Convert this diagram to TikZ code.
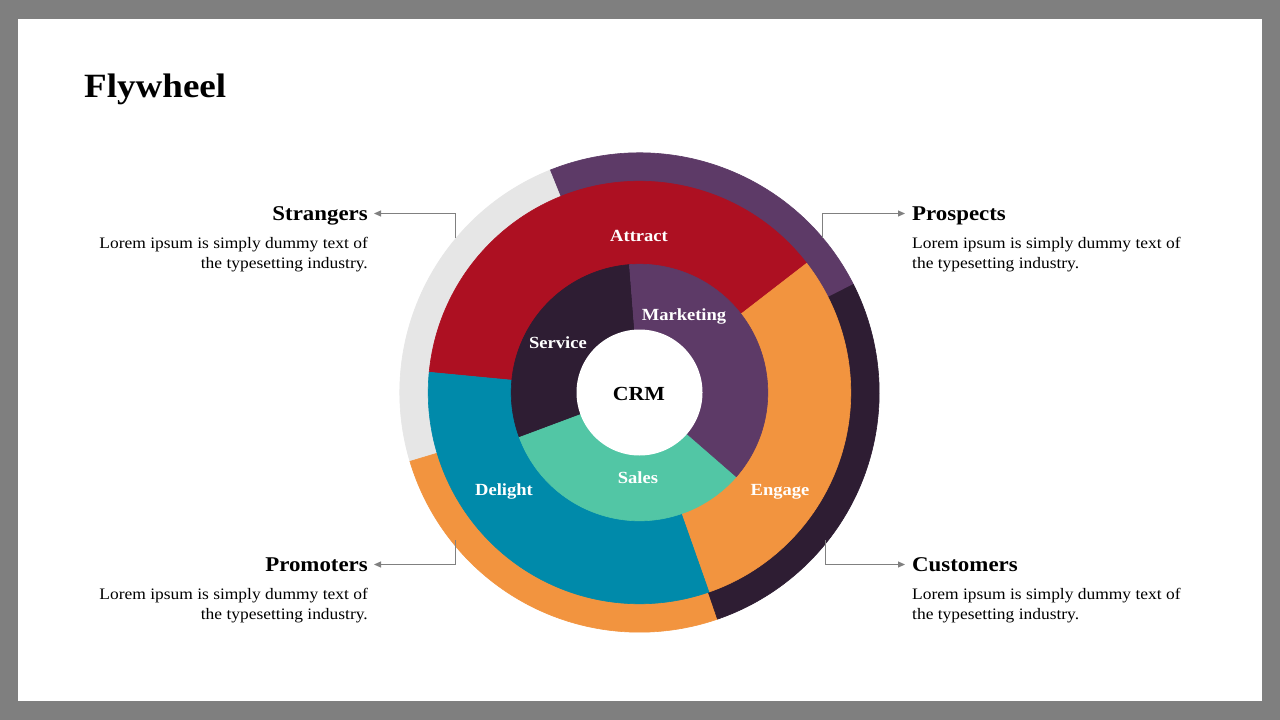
\documentclass[tikz,border=0pt]{standalone}
\usepackage{fontspec}
\setmainfont[FakeStretch=1.09]{Liberation Serif}
\usetikzlibrary{arrows.meta}
\definecolor{bggray}{HTML}{7F7F7F}
\definecolor{ringgray}{HTML}{E6E6E6}
\definecolor{wpurple}{HTML}{5D3A67}
\definecolor{wdark}{HTML}{2E1D33}
\definecolor{worange}{HTML}{F2943F}
\definecolor{wred}{HTML}{AD1022}
\definecolor{wblue}{HTML}{008AAA}
\definecolor{wteal}{HTML}{52C6A5}
\definecolor{conngray}{HTML}{808080}
\newcommand{\annseg}[5]{\filldraw[fill=#1, draw=#1, line width=0.6pt, line join=round] (#2:#4) arc[start angle=#2,end angle=#3,radius=#4] -- (#3:#5) arc[start angle=#3,end angle=#2,radius=#5] -- cycle;}
\tikzset{
  titletext/.style={font=\fontsize{34}{40}\selectfont\bfseries, inner sep=0pt, anchor=base west},
  headtext/.style={font=\fontsize{21}{25}\selectfont\bfseries, inner sep=0pt},
  bodytext/.style={font=\fontsize{16}{20}\selectfont, inner sep=0pt},
  wheeltext/.style={font=\fontsize{17}{20}\selectfont\bfseries, text=white, inner sep=0pt, anchor=base},
  crmtext/.style={font=\fontsize{20}{24}\selectfont\bfseries, text=black, inner sep=0pt, anchor=base},
  conn/.style={draw=conngray, line width=1pt, -{Triangle[length=7pt,width=6pt]}}
}
\begin{document}
\begin{tikzpicture}[x=1pt,y=-1pt]
\useasboundingbox (0,0) rectangle (1280,720);
\fill[bggray] (0,0) rectangle (1280,720);
\fill[white] (18,19) rectangle (1262,701);

\node[titletext] (title) at (84,97) {Flywheel};

\begin{scope}[shift={(639.5,392.5)}, yscale=-1]
  % outer ring
  \annseg{wpurple}{26.8}{112}{239.7}{210}
  \annseg{ringgray}{112}{196.7}{239.7}{210}
  \annseg{worange}{196.7}{289}{239.7}{210}
  \annseg{wdark}{289}{386.8}{239.7}{210}
  % middle ring
  \annseg{wred}{37.7}{174.5}{211.3}{127}
  \annseg{wblue}{174.5}{289.4}{211.3}{127}
  \annseg{worange}{289.4}{397.7}{211.3}{127}
  % inner ring
  \annseg{wdark}{94.5}{200.5}{128.3}{62}
  \annseg{wteal}{200.5}{319}{128.3}{62}
  \annseg{wpurple}{319}{454.5}{128.3}{62}
  \fill[white] (0,0) circle[radius=63];
  % labels
  \node[wheeltext] (attract) at (-0.5,151.5) {Attract};
  \node[wheeltext] (marketing) at (44.5,72.5) {Marketing};
  \node[wheeltext] (service) at (-81.5,44.5) {Service};
  \node[crmtext] (crm) at (-0.5,-7.5) {CRM};
  \node[wheeltext] (sales) at (-1.5,-90.5) {Sales};
  \node[wheeltext] (delight) at (-135.5,-102.5) {Delight};
  \node[wheeltext] (engage) at (140.5,-102.5) {Engage};
\end{scope}

% Strangers
\node[headtext, anchor=base east] (strangers) at (368,220) {Strangers};
\node[bodytext, anchor=base east] (str1) at (368,248) {Lorem ipsum is simply dummy text of};
\node[bodytext, anchor=base east] (str2) at (368,268) {the typesetting industry.};
% Prospects
\node[headtext, anchor=base west] (prospects) at (912,220) {Prospects};
\node[bodytext, anchor=base west] (pro1) at (912,248) {Lorem ipsum is simply dummy text of};
\node[bodytext, anchor=base west] (pro2) at (912,268) {the typesetting industry.};
% Promoters
\node[headtext, anchor=base east] (promoters) at (368,571) {Promoters};
\node[bodytext, anchor=base east] (prm1) at (368,599) {Lorem ipsum is simply dummy text of};
\node[bodytext, anchor=base east] (prm2) at (368,619) {the typesetting industry.};
% Customers
\node[headtext, anchor=base west] (customers) at (912,571) {Customers};
\node[bodytext, anchor=base west] (cus1) at (912,599) {Lorem ipsum is simply dummy text of};
\node[bodytext, anchor=base west] (cus2) at (912,619) {the typesetting industry.};

% connectors
\coordinate (sA) at (455.5,238);
\coordinate (sB) at (374,213.5);
\coordinate (pA) at (822.5,238);
\coordinate (pB) at (905,213.5);
\coordinate (mA) at (455.5,540);
\coordinate (mB) at (374,564.5);
\coordinate (cA) at (825.5,540);
\coordinate (cB) at (905,564.5);
\draw[conn] (sA) |- (sB);
\draw[conn] (pA) |- (pB);
\draw[conn] (mA) |- (mB);
\draw[conn] (cA) |- (cB);
\end{tikzpicture}
\end{document}
